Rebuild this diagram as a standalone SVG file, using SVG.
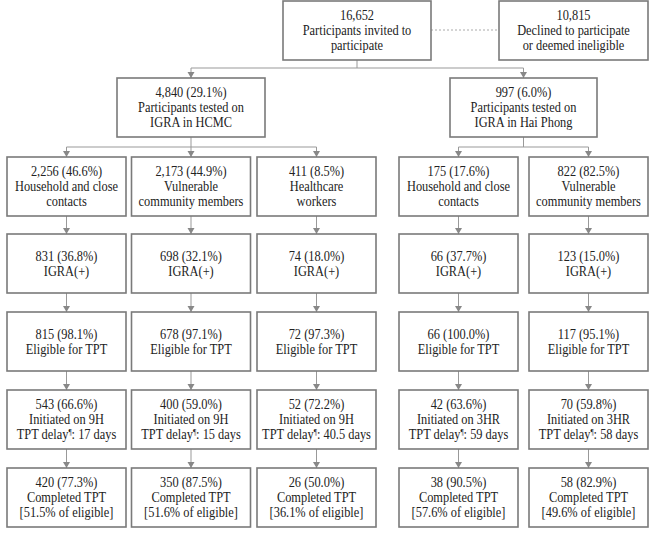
<svg xmlns="http://www.w3.org/2000/svg" width="649" height="552" viewBox="0 0 649 552">
<style>
.bg{fill:#fff}
.box{fill:#fff;stroke:#7a7a7a;stroke-width:1.6}
text{font-family:'Liberation Serif','Times New Roman','DejaVu Serif',serif;font-size:14px;fill:#222;text-anchor:middle}
.sup{font-size:8px}
.ln{fill:none;stroke:#999;stroke-width:1}
.ar{fill:none;stroke:#999;stroke-width:1;marker-end:url(#ah)}
.dash{fill:none;stroke:#aaa;stroke-width:1;stroke-dasharray:2 2}
</style>
<defs>
<marker id="ah" markerUnits="userSpaceOnUse" markerWidth="8" markerHeight="8" refX="6" refY="3.5" orient="auto">
<path d="M0,0 L6,3.5 L0,7 z" fill="#888"/>
</marker>
</defs>
<rect class="bg" x="0" y="0" width="649" height="552"/>
<g id="connectors">
<path class="dash" d="M431 30 H499"/>
<path class="ln" d="M357 60 V68 M191 68 H523.5"/>
<path class="ar" d="M191 68 V78"/>
<path class="ar" d="M523.5 68 V78"/>
<path class="ln" d="M191 137 V147 M66.5 147 H316.5"/>
<path class="ar" d="M66.5 147 V157"/>
<path class="ar" d="M191 147 V157"/>
<path class="ar" d="M316.5 147 V157"/>
<path class="ln" d="M523.5 137 V147 M458.5 147 H588.5"/>
<path class="ar" d="M458.5 147 V157"/>
<path class="ar" d="M588.5 147 V157"/>
<path class="ar" d="M66.5 216 V234"/><path class="ar" d="M66.5 293 V312"/><path class="ar" d="M66.5 371 V390"/><path class="ar" d="M66.5 449 V468"/>
<path class="ar" d="M191 216 V234"/><path class="ar" d="M191 293 V312"/><path class="ar" d="M191 371 V390"/><path class="ar" d="M191 449 V468"/>
<path class="ar" d="M316.5 216 V234"/><path class="ar" d="M316.5 293 V312"/><path class="ar" d="M316.5 371 V390"/><path class="ar" d="M316.5 449 V468"/>
<path class="ar" d="M458.5 216 V234"/><path class="ar" d="M458.5 293 V312"/><path class="ar" d="M458.5 371 V390"/><path class="ar" d="M458.5 449 V468"/>
<path class="ar" d="M588.5 216 V234"/><path class="ar" d="M588.5 293 V312"/><path class="ar" d="M588.5 371 V390"/><path class="ar" d="M588.5 449 V468"/>
</g>

<g id="invited"><rect class="box" x="283" y="1" width="148" height="59"/>
<g transform="matrix(0.885 0 0 1 357 0)"><text x="0" y="20.5">16,652</text><text x="0" y="35.5">Participants invited to</text><text x="0" y="50.5">participate</text></g></g>

<g id="declined"><rect class="box" x="499" y="1" width="149" height="59"/>
<g transform="matrix(0.885 0 0 1 573.5 0)"><text x="0" y="20.5">10,815</text><text x="0" y="35.5">Declined to participate</text><text x="0" y="50.5">or deemed ineligible</text></g></g>

<g id="hcmc"><rect class="box" x="117" y="78" width="148" height="59"/>
<g transform="matrix(0.885 0 0 1 191 0)"><text x="0" y="97.5">4,840 (29.1%)</text><text x="0" y="112.5">Participants tested on</text><text x="0" y="127.5">IGRA in HCMC</text></g></g>

<g id="haiphong"><rect class="box" x="450" y="78" width="147" height="59"/>
<g transform="matrix(0.885 0 0 1 523.5 0)"><text x="0" y="97.5">997 (6.0%)</text><text x="0" y="112.5">Participants tested on</text><text x="0" y="127.5">IGRA in Hai Phong</text></g></g>

<!-- column 1 -->
<g id="c1r1"><rect class="box" x="7" y="157" width="119" height="59"/>
<g transform="matrix(0.885 0 0 1 66.5 0)"><text x="0" y="176.5">2,256 (46.6%)</text><text x="0" y="191.5">Household and close</text><text x="0" y="206.5">contacts</text></g></g>
<g id="c1r2"><rect class="box" x="7" y="234" width="119" height="59"/>
<g transform="matrix(0.885 0 0 1 66.5 0)"><text x="0" y="261.5">831 (36.8%)</text><text x="0" y="276.5">IGRA(+)</text></g></g>
<g id="c1r3"><rect class="box" x="7" y="312" width="119" height="59"/>
<g transform="matrix(0.885 0 0 1 66.5 0)"><text x="0" y="339">815 (98.1%)</text><text x="0" y="354">Eligible for TPT</text></g></g>
<g id="c1r4"><rect class="box" x="7" y="390" width="119" height="59"/>
<g transform="matrix(0.885 0 0 1 66.5 0)"><text x="0" y="409.5">543 (66.6%)</text><text x="0" y="424.5">Initiated on 9H</text><text x="0" y="439.5">TPT delay<tspan class="sup" dy="-4">¶</tspan><tspan dy="4">: 17 days</tspan></text></g></g>
<g id="c1r5"><rect class="box" x="7" y="468" width="119" height="59"/>
<g transform="matrix(0.885 0 0 1 66.5 0)"><text x="0" y="487.5">420 (77.3%)</text><text x="0" y="502.5">Completed TPT</text><text x="0" y="517.5">[51.5% of eligible]</text></g></g>

<!-- column 2 -->
<g id="c2r1"><rect class="box" x="131.5" y="157" width="119" height="59"/>
<g transform="matrix(0.885 0 0 1 191 0)"><text x="0" y="176.5">2,173 (44.9%)</text><text x="0" y="191.5">Vulnerable</text><text x="0" y="206.5">community members</text></g></g>
<g id="c2r2"><rect class="box" x="131.5" y="234" width="119" height="59"/>
<g transform="matrix(0.885 0 0 1 191 0)"><text x="0" y="261.5">698 (32.1%)</text><text x="0" y="276.5">IGRA(+)</text></g></g>
<g id="c2r3"><rect class="box" x="131.5" y="312" width="119" height="59"/>
<g transform="matrix(0.885 0 0 1 191 0)"><text x="0" y="339">678 (97.1%)</text><text x="0" y="354">Eligible for TPT</text></g></g>
<g id="c2r4"><rect class="box" x="131.5" y="390" width="119" height="59"/>
<g transform="matrix(0.885 0 0 1 191 0)"><text x="0" y="409.5">400 (59.0%)</text><text x="0" y="424.5">Initiated on 9H</text><text x="0" y="439.5">TPT delay<tspan class="sup" dy="-4">¶</tspan><tspan dy="4">: 15 days</tspan></text></g></g>
<g id="c2r5"><rect class="box" x="131.5" y="468" width="119" height="59"/>
<g transform="matrix(0.885 0 0 1 191 0)"><text x="0" y="487.5">350 (87.5%)</text><text x="0" y="502.5">Completed TPT</text><text x="0" y="517.5">[51.6% of eligible]</text></g></g>

<!-- column 3 -->
<g id="c3r1"><rect class="box" x="257" y="157" width="119" height="59"/>
<g transform="matrix(0.885 0 0 1 316.5 0)"><text x="0" y="176.5">411 (8.5%)</text><text x="0" y="191.5">Healthcare</text><text x="0" y="206.5">workers</text></g></g>
<g id="c3r2"><rect class="box" x="257" y="234" width="119" height="59"/>
<g transform="matrix(0.885 0 0 1 316.5 0)"><text x="0" y="261.5">74 (18.0%)</text><text x="0" y="276.5">IGRA(+)</text></g></g>
<g id="c3r3"><rect class="box" x="257" y="312" width="119" height="59"/>
<g transform="matrix(0.885 0 0 1 316.5 0)"><text x="0" y="339">72 (97.3%)</text><text x="0" y="354">Eligible for TPT</text></g></g>
<g id="c3r4"><rect class="box" x="257" y="390" width="119" height="59"/>
<g transform="matrix(0.885 0 0 1 316.5 0)"><text x="0" y="409.5">52 (72.2%)</text><text x="0" y="424.5">Initiated on 9H</text><text x="0" y="439.5">TPT delay<tspan class="sup" dy="-4">¶</tspan><tspan dy="4">: 40.5 days</tspan></text></g></g>
<g id="c3r5"><rect class="box" x="257" y="468" width="119" height="59"/>
<g transform="matrix(0.885 0 0 1 316.5 0)"><text x="0" y="487.5">26 (50.0%)</text><text x="0" y="502.5">Completed TPT</text><text x="0" y="517.5">[36.1% of eligible]</text></g></g>

<!-- column 4 -->
<g id="c4r1"><rect class="box" x="399" y="157" width="119" height="59"/>
<g transform="matrix(0.885 0 0 1 458.5 0)"><text x="0" y="176.5">175 (17.6%)</text><text x="0" y="191.5">Household and close</text><text x="0" y="206.5">contacts</text></g></g>
<g id="c4r2"><rect class="box" x="399" y="234" width="119" height="59"/>
<g transform="matrix(0.885 0 0 1 458.5 0)"><text x="0" y="261.5">66 (37.7%)</text><text x="0" y="276.5">IGRA(+)</text></g></g>
<g id="c4r3"><rect class="box" x="399" y="312" width="119" height="59"/>
<g transform="matrix(0.885 0 0 1 458.5 0)"><text x="0" y="339">66 (100.0%)</text><text x="0" y="354">Eligible for TPT</text></g></g>
<g id="c4r4"><rect class="box" x="399" y="390" width="119" height="59"/>
<g transform="matrix(0.885 0 0 1 458.5 0)"><text x="0" y="409.5">42 (63.6%)</text><text x="0" y="424.5">Initiated on 3HR</text><text x="0" y="439.5">TPT delay<tspan class="sup" dy="-4">¶</tspan><tspan dy="4">: 59 days</tspan></text></g></g>
<g id="c4r5"><rect class="box" x="399" y="468" width="119" height="59"/>
<g transform="matrix(0.885 0 0 1 458.5 0)"><text x="0" y="487.5">38 (90.5%)</text><text x="0" y="502.5">Completed TPT</text><text x="0" y="517.5">[57.6% of eligible]</text></g></g>

<!-- column 5 -->
<g id="c5r1"><rect class="box" x="529" y="157" width="119" height="59"/>
<g transform="matrix(0.885 0 0 1 588.5 0)"><text x="0" y="176.5">822 (82.5%)</text><text x="0" y="191.5">Vulnerable</text><text x="0" y="206.5">community members</text></g></g>
<g id="c5r2"><rect class="box" x="529" y="234" width="119" height="59"/>
<g transform="matrix(0.885 0 0 1 588.5 0)"><text x="0" y="261.5">123 (15.0%)</text><text x="0" y="276.5">IGRA(+)</text></g></g>
<g id="c5r3"><rect class="box" x="529" y="312" width="119" height="59"/>
<g transform="matrix(0.885 0 0 1 588.5 0)"><text x="0" y="339">117 (95.1%)</text><text x="0" y="354">Eligible for TPT</text></g></g>
<g id="c5r4"><rect class="box" x="529" y="390" width="119" height="59"/>
<g transform="matrix(0.885 0 0 1 588.5 0)"><text x="0" y="409.5">70 (59.8%)</text><text x="0" y="424.5">Initiated on 3HR</text><text x="0" y="439.5">TPT delay<tspan class="sup" dy="-4">¶</tspan><tspan dy="4">: 58 days</tspan></text></g></g>
<g id="c5r5"><rect class="box" x="529" y="468" width="119" height="59"/>
<g transform="matrix(0.885 0 0 1 588.5 0)"><text x="0" y="487.5">58 (82.9%)</text><text x="0" y="502.5">Completed TPT</text><text x="0" y="517.5">[49.6% of eligible]</text></g></g>
</svg>
